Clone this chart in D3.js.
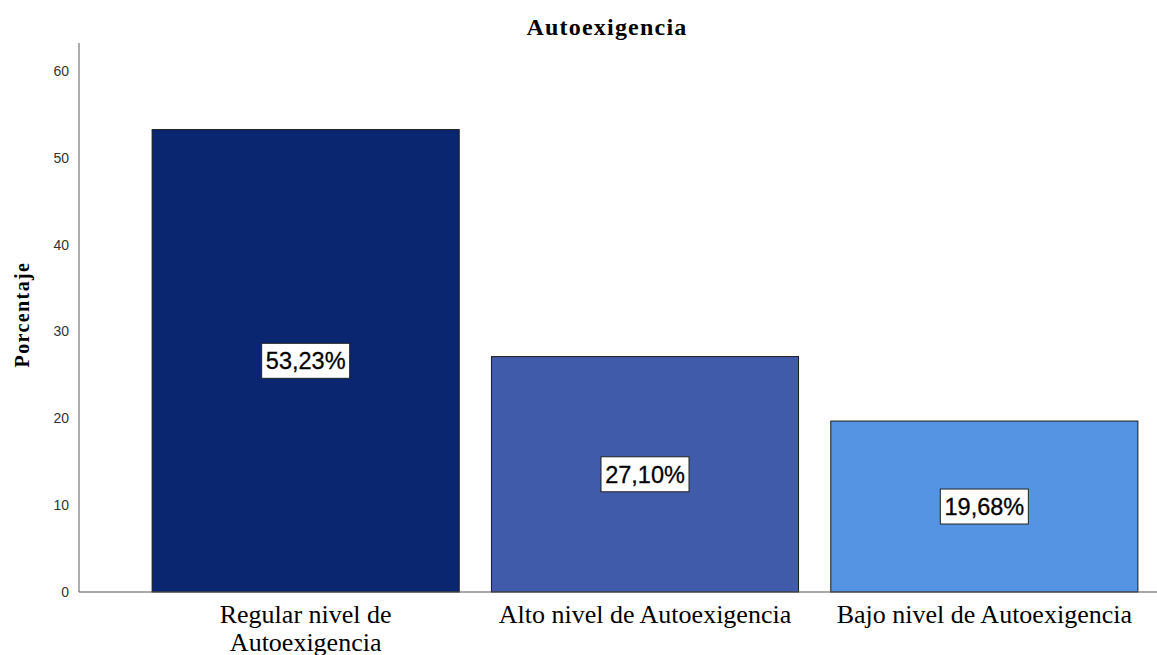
<!DOCTYPE html>
<html>
<head>
<meta charset="utf-8">
<script src="https://cdn.jsdelivr.net/npm/d3@7"></script>
<style>
  html, body { margin: 0; padding: 0; background: #fff; }
  svg { display: block; }
</style>
</head>
<body>
<svg id="chart" width="1157" height="655"></svg>
<script>
// Autoexigencia: share of respondents per level
const categories = [["Regular nivel de", "Autoexigencia"], ["Alto nivel de Autoexigencia"], ["Bajo nivel de Autoexigencia"]];
const values = [53.23, 27.10, 19.68];
const valueLabels = ["53,23%", "27,10%", "19,68%"];
const barColors = ["#0b2670", "#3f5ba9", "#5494e3"];
const yTicks = [0, 10, 20, 30, 40, 50, 60];

const svg = d3.select("#chart");
const W = 1157, H = 655;
const x0 = 79, yTop = 43, yBase = 592;

const y = d3.scaleLinear().domain([0, 63.2]).range([yBase, yTop]);
const x = d3.scaleBand()
  .domain(d3.range(categories.length))
  .range([136, 1154])
  .paddingInner(0.095)
  .paddingOuter(0.0475);

// title
svg.append("text")
  .attr("x", 607).attr("y", 35)
  .attr("text-anchor", "middle")
  .attr("font-family", "Liberation Serif, Times New Roman, serif")
  .attr("font-weight", "bold")
  .attr("font-size", 24)
  .attr("letter-spacing", 1.2)
  .attr("fill", "#000")
  .text("Autoexigencia");

// y axis label
svg.append("text")
  .attr("transform", `translate(29, ${(yTop + yBase) / 2 - 3}) rotate(-90)`)
  .attr("text-anchor", "middle")
  .attr("font-family", "Liberation Serif, Times New Roman, serif")
  .attr("font-weight", "bold")
  .attr("font-size", 20)
  .attr("letter-spacing", 1.4)
  .attr("fill", "#000")
  .text("Porcentaje");

// bars
svg.append("g").selectAll("rect")
  .data(values)
  .join("rect")
  .attr("x", (d, i) => x(i))
  .attr("y", d => y(d))
  .attr("width", x.bandwidth())
  .attr("height", d => yBase - y(d))
  .attr("fill", (d, i) => barColors[i])
  .attr("stroke", "#1a1a1a")
  .attr("stroke-width", 1);

// y axis
const yAxis = d3.axisLeft(y).tickValues(yTicks).tickSize(0).tickPadding(10).tickFormat(d3.format("d"));
const gy = svg.append("g").attr("transform", `translate(${x0},0)`).call(yAxis);
gy.select(".domain").remove();
gy.selectAll("text")
  .attr("font-family", "Liberation Sans, Arial, sans-serif")
  .attr("font-size", 14)
  .attr("fill", "#333");
svg.append("line")
  .attr("x1", x0).attr("x2", x0)
  .attr("y1", yTop).attr("y2", yBase)
  .attr("stroke", "#777").attr("stroke-width", 1.2);

// x axis baseline
svg.append("line")
  .attr("x1", x0).attr("x2", W)
  .attr("y1", yBase).attr("y2", yBase)
  .attr("stroke", "#555").attr("stroke-width", 1.2);

// category labels
const cat = svg.append("g").selectAll("text")
  .data(categories)
  .join("text")
  .attr("x", (d, i) => x(i) + x.bandwidth() / 2)
  .attr("y", 623)
  .attr("text-anchor", "middle")
  .attr("font-family", "Liberation Serif, Times New Roman, serif")
  .attr("font-size", 26)
  .attr("fill", "#000");
cat.selectAll("tspan")
  .data(d => d)
  .join("tspan")
  .attr("x", function () { return d3.select(this.parentNode).attr("x"); })
  .attr("dy", (d, i) => i === 0 ? 0 : 28)
  .text(d => d);

// value labels in boxes at half height
const lab = svg.append("g").selectAll("g")
  .data(values)
  .join("g")
  .attr("transform", (d, i) => `translate(${x(i) + x.bandwidth() / 2}, ${y(d / 2)})`);
lab.append("rect")
  .attr("x", -44).attr("y", -17.5)
  .attr("width", 88).attr("height", 35)
  .attr("fill", "#fff")
  .attr("stroke", "#222")
  .attr("stroke-width", 1);
lab.append("text")
  .attr("text-anchor", "middle")
  .attr("dy", "0.36em")
  .attr("font-family", "Liberation Sans, Arial, sans-serif")
  .attr("font-size", 23.5)
  .attr("fill", "#000")
  .attr("stroke", "#000")
  .attr("stroke-width", 0.3)
  .text((d, i) => valueLabels[i]);
</script>
</body>
</html>
